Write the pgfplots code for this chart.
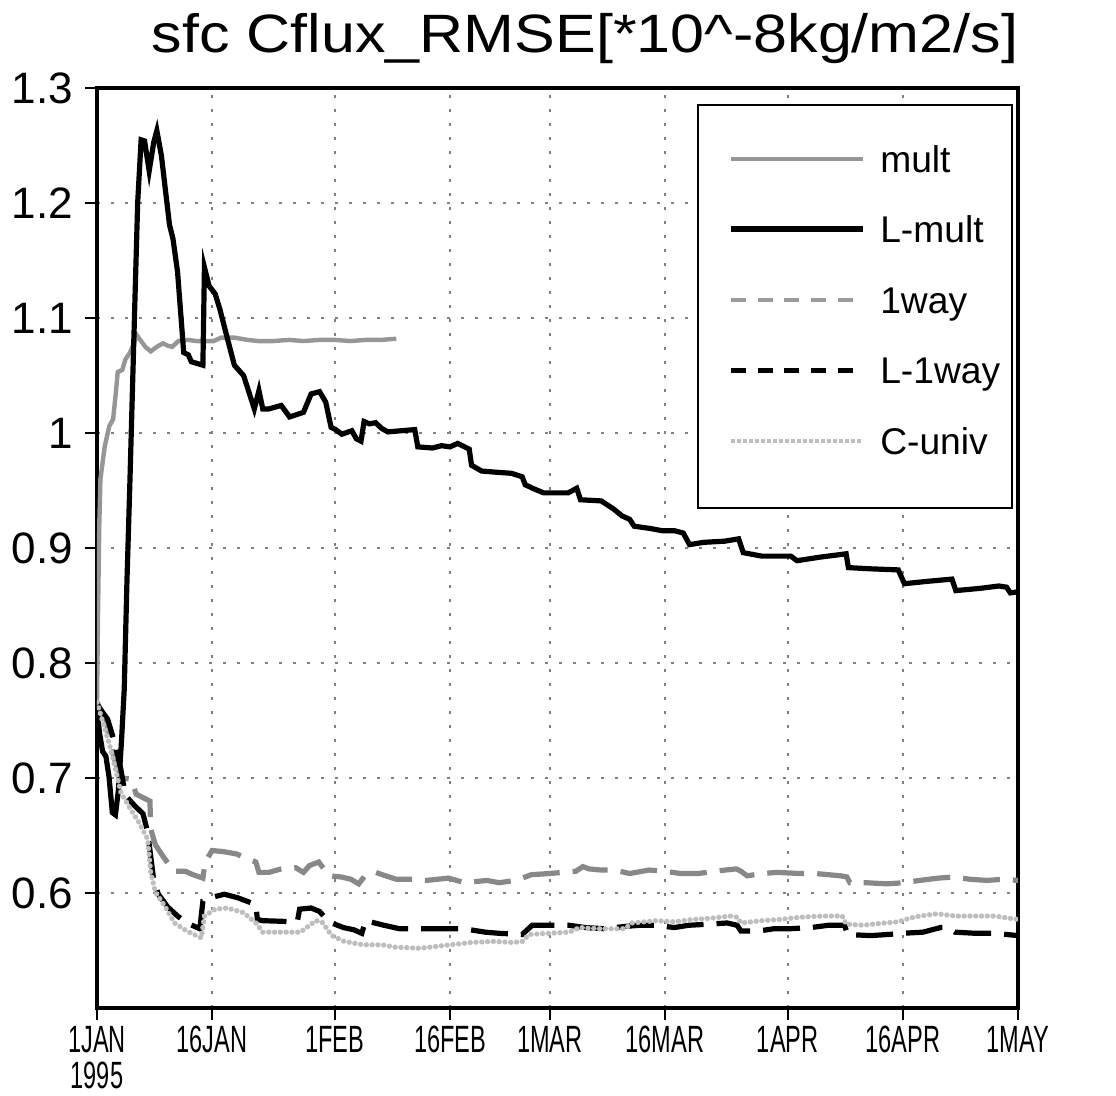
\documentclass[border=0pt]{standalone}
\usepackage{pgfplots}
\pgfplotsset{compat=1.18}
\usepackage{fontspec}
\setmainfont{Liberation Sans}
\definecolor{multc}{RGB}{150,150,150}
\definecolor{wayc}{RGB}{136,136,136}
\definecolor{univc}{RGB}{190,190,190}
\newcommand\xl[1]{\scalebox{0.62}[1]{#1}}
\begin{document}
\begin{tikzpicture}
\begin{axis}[
  scale only axis, width=460.5pt, height=460pt,
  xmin=0, xmax=120, ymin=0.5, ymax=1.3,
  xtick={0,15,31,46,59,74,90,105,120},
  xticklabels={{\xl{1JAN}\\[1pt]\xl{1995}},\xl{16JAN},\xl{1FEB},\xl{16FEB},\xl{1MAR},\xl{16MAR},\xl{1APR},\xl{16APR},\xl{1MAY}},
  ytick={0.6,0.7,0.8,0.9,1,1.1,1.2,1.3},
  xtick pos=left, ytick pos=left, tick align=outside,
  major tick length=6pt,
  tick style={black, line width=1pt},
  axis line style={line width=2pt},
  grid=major,
  major grid style={gray, line width=0.8pt, dash pattern=on 1.5pt off 5.5pt},
  /pgf/number format/assume math mode=true,
  yticklabel style={font=\fontsize{22}{26}\selectfont, xshift=-2.5pt},
  xticklabel style={font=\fontsize{19}{17}\selectfont, align=center, yshift=0.5pt},
  clip mode=individual,
  legend cell align=left,
  legend style={draw=none, fill=none, inner sep=0pt,
    at={(axis description cs:0.685,0.938)}, anchor=north west,
    font=\fontsize{18.6}{22}\selectfont, row sep=21.75pt, column sep=7pt,
    nodes={inner sep=0pt, text height=13.5pt, text depth=0pt}},
  legend image code/.code={\draw[#1] (0pt,0pt) -- (66pt,0pt);},
]
\coordinate (bbll) at (axis description cs:-0.1053,-0.0902);
\coordinate (bbur) at (axis description cs:1.1064,1.0957);
\draw[black, line width=0.7pt, fill=white] (axis description cs:0.6526,0.9815) rectangle (axis description cs:0.9935,0.5435);
\node[anchor=base, font=\fontsize{27}{30}\selectfont] at (axis description cs:0.53,1.039) {\scalebox{1.13}[1]{sfc Cflux\_RMSE[*10\textasciicircum-8kg/m2/s]}};

\addlegendimage{multc, line width=2pt}
\addlegendentry{mult}
\addlegendimage{black, line width=3pt}
\addlegendentry{L-mult}
\addlegendimage{wayc!85, line width=2.2pt, dash pattern=on 7.5pt off 5.8pt}
\addlegendentry{1way}
\addlegendimage{black, line width=2.5pt, dash pattern=on 7.5pt off 5.8pt}
\addlegendentry{L-1way}
\addlegendimage{univc, line width=1.6pt, dash pattern=on 2pt off 1pt}
\addlegendentry{C-univ}

% mult
\addplot[forget plot, multc, line width=2.2pt] coordinates {
(0,0.765) (0.15,0.85) (0.3,0.92) (0.45,0.96) (1.0,0.988) (1.6,1.006) (2.1,1.012)
(2.5,1.038) (2.7,1.053) (3.3,1.055) (3.7,1.064) (4.3,1.070) (4.8,1.078) (5.2,1.085)
(5.75,1.080) (6.3,1.075) (7.0,1.071) (7.8,1.075) (8.6,1.078) (9.2,1.076) (9.8,1.075)
(10.6,1.080) (11.8,1.081) (13.0,1.080) (14.6,1.080) (15.2,1.080) (16.2,1.083)
(17.9,1.083) (19.6,1.081) (21,1.080) (22.9,1.080) (25,1.081) (26.9,1.080) (29,1.081)
(31,1.081) (33,1.080) (35,1.081) (37,1.081) (39,1.082)
};
% L-mult
\addplot[forget plot, black, line width=2.6pt] coordinates {
(0,0.762) (0.33,0.739) (0.74,0.723) (1.16,0.719) (1.57,0.701) (2.0,0.670) (2.4,0.668)
(2.8,0.690) (3.2,0.733) (3.55,0.777) (3.9,0.87) (4.3,0.960) (4.9,1.105) (5.3,1.200)
(5.75,1.255) (6.2,1.254) (6.8,1.228) (7.4,1.253) (7.8,1.263) (8.4,1.241) (8.8,1.218)
(9.45,1.181) (9.9,1.169) (10.5,1.140) (10.9,1.105) (11.3,1.070) (11.9,1.068)
(12.3,1.062) (13.8,1.059) (14.0,1.144) (14.6,1.128) (15.4,1.121) (16.0,1.108)
(17.0,1.082) (17.9,1.059) (19.1,1.050) (20.5,1.021) (21.1,1.037) (21.6,1.021)
(22.4,1.021) (24.0,1.024) (25.1,1.014) (26.9,1.018) (27.9,1.034) (29.0,1.036)
(29.8,1.027) (30.5,1.005) (31.1,1.003) (31.9,0.999) (33.2,1.002) (33.8,0.995)
(34.4,0.993) (34.8,1.010) (35.5,1.008) (36.3,1.009) (37.1,1.004) (37.9,1.001)
(39.6,1.002) (41.4,1.003) (41.8,0.988) (43.7,0.987) (44.9,0.989) (46.0,0.988)
(47.0,0.991) (48.5,0.986) (48.8,0.972) (50.1,0.967) (51.9,0.966) (54.0,0.965)
(55.4,0.962) (55.8,0.955) (57.1,0.951) (58.2,0.948) (61.4,0.948) (62.5,0.952)
(63.0,0.942) (65.7,0.941) (67.3,0.934) (68.4,0.928) (69.4,0.925) (70.0,0.919)
(72.1,0.917) (73.7,0.915) (75.3,0.915) (76.4,0.913) (77.2,0.903) (79.1,0.905)
(81.8,0.906) (83.6,0.908) (84.2,0.896) (86.6,0.893) (90.4,0.893) (91.2,0.889)
(94.1,0.892) (97.6,0.895) (97.9,0.883) (100.6,0.882) (104.4,0.881) (105.2,0.869)
(108.1,0.871) (111.4,0.873) (111.9,0.863) (115.1,0.865) (117.5,0.867) (118.5,0.866)
(119,0.861) (120,0.862)
};
% 1way
\addplot[forget plot, wayc, line width=2.6pt, dash pattern=on 18.5pt off 6.5pt] coordinates {
(0,0.766) (1.2,0.750) (1.8,0.730) (2.4,0.713) (3.3,0.700) (4.5,0.699) (5.1,0.686)
(6.3,0.682) (6.9,0.680) (7.0,0.656) (7.6,0.642) (8.6,0.632) (10.0,0.619) (11.5,0.619)
(12.5,0.616) (13.8,0.613) (14.1,0.627) (15,0.637) (16.5,0.636) (18.2,0.634)
(19.2,0.631) (20.7,0.627) (21.1,0.618) (22.4,0.618) (24,0.621) (25.9,0.622)
(26.9,0.618) (27.7,0.624) (28.9,0.627) (30.2,0.615) (31.8,0.614) (33.1,0.612)
(34.1,0.608) (34.9,0.615) (36.3,0.618) (37.6,0.615) (39,0.612) (40.9,0.612)
(42.9,0.611) (45.8,0.613) (47.9,0.609) (50.8,0.611) (52.4,0.609) (54.5,0.611)
(55.8,0.614) (56.6,0.616) (59,0.617) (60.7,0.618) (62.4,0.619) (63.3,0.623)
(64.1,0.621) (65.7,0.620) (67.4,0.620) (69.4,0.617) (71.9,0.620) (74,0.619)
(76,0.617) (78.4,0.617) (80.4,0.619) (83.3,0.621) (83.9,0.619) (84.7,0.615)
(86.8,0.617) (88.6,0.618) (91.5,0.617) (93.6,0.617) (96.9,0.615) (97.7,0.614)
(98.1,0.609) (100.2,0.609) (103,0.608) (105.1,0.609) (107.2,0.611) (109.6,0.613)
(111.7,0.614) (113.7,0.612) (116,0.611) (118,0.612) (120,0.611)
};
% L-1way
\addplot[forget plot, black, line width=2.6pt, dash pattern=on 18.5pt off 6.5pt] coordinates {
(0,0.764) (1.4,0.751) (2.3,0.731) (3.1,0.708) (3.7,0.685) (4.9,0.676) (6.0,0.669)
(6.6,0.653) (7.0,0.632) (7.4,0.611) (8.0,0.599) (9.2,0.588) (10.5,0.580) (11.7,0.574)
(13.4,0.569) (13.8,0.593) (14.8,0.596) (16.6,0.599) (18.3,0.596) (20.7,0.590)
(20.9,0.577) (21.6,0.576) (26.1,0.575) (26.4,0.586) (27.9,0.587) (29,0.584)
(30.2,0.575) (32.1,0.570) (33.5,0.568) (34.5,0.565) (35,0.576) (37.4,0.572)
(39.4,0.569) (44,0.569) (47.3,0.569) (48.7,0.568) (50.6,0.566) (52.4,0.565)
(55.4,0.564) (56.7,0.572) (58.8,0.572) (61.5,0.572) (63.6,0.570) (66.1,0.569)
(68.8,0.571) (70.7,0.572) (72.9,0.572) (75.2,0.570) (77.1,0.572) (79.8,0.573)
(82.1,0.574) (83.4,0.572) (83.9,0.567) (86.2,0.567) (88.2,0.569) (90.3,0.569)
(93.0,0.570) (95.3,0.572) (97.4,0.572) (97.8,0.564) (100.8,0.563) (103.1,0.564)
(104.9,0.565) (107.6,0.566) (109.9,0.570) (110.8,0.570) (111.8,0.566) (114.5,0.565)
(117,0.565) (120,0.563)
};
% C-univ
\addplot[forget plot, univc, line width=2.6pt, line cap=round, dash pattern=on 0.1pt off 2.8pt] coordinates {
(0,0.766) (1.8,0.725) (3.1,0.688) (4.1,0.676) (5.5,0.661) (6.6,0.647) (7.0,0.618)
(7.6,0.601) (8.8,0.589) (10.1,0.574) (11.7,0.567) (13.6,0.561) (14,0.580) (15.4,0.586)
(17,0.587) (19.1,0.583) (20.7,0.574) (21.6,0.566) (26.5,0.566) (28.5,0.576)
(29.3,0.575) (30.6,0.563) (32.2,0.558) (34.7,0.555) (37.2,0.555) (38.8,0.553)
(42.1,0.552) (46,0.555) (48.7,0.557) (51.5,0.558) (54.2,0.557) (55.4,0.558)
(56.3,0.564) (58.8,0.565) (61.5,0.566) (62.9,0.570) (65.2,0.569) (68.8,0.569)
(69.7,0.574) (72.9,0.576) (75.2,0.575) (77.5,0.577) (79.8,0.578) (82.5,0.580)
(83.4,0.579) (83.9,0.574) (86.6,0.576) (88.9,0.577) (91.6,0.579) (94.4,0.580)
(97.1,0.580) (97.6,0.573) (99.8,0.572) (102.6,0.574) (104.4,0.575) (105.8,0.578)
(107.2,0.580) (109.5,0.582) (111.8,0.580) (114.5,0.580) (117,0.580) (120,0.577)
};
\end{axis}
\path (bbll) rectangle (bbur);
\end{tikzpicture}
\end{document}
